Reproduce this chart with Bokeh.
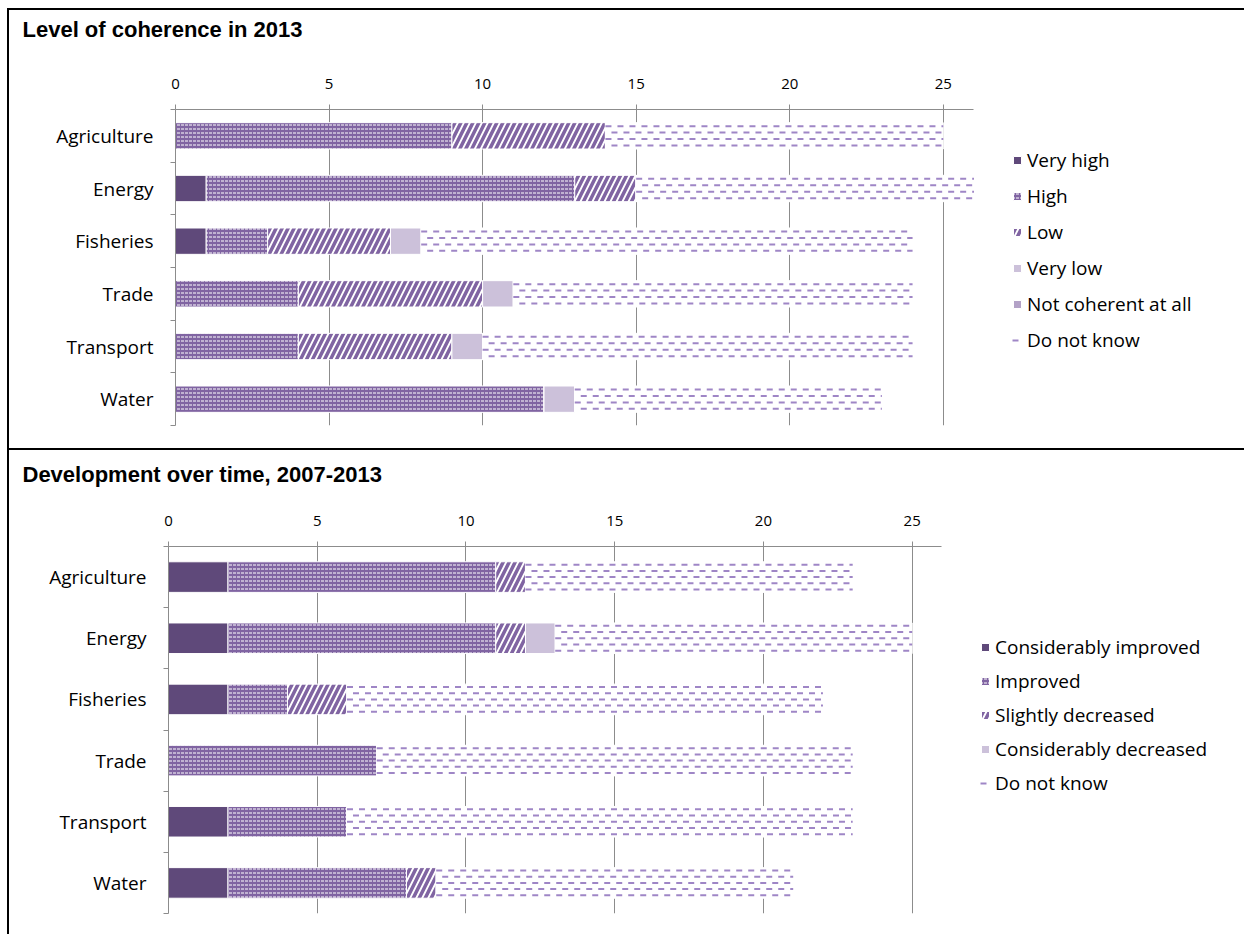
from bokeh.plotting import figure
from bokeh.models import Range1d, FixedTicker, Legend, LegendItem, ColumnDataSource
from bokeh.layouts import column
from bokeh.embed import file_html
from bokeh.resources import INLINE

categories = ["Agriculture", "Energy", "Fisheries", "Trade", "Transport", "Water"]
x_ticks = [0, 5, 10, 15, 20, 25]
x_axis_max = 26

# Level of coherence in 2013
coh_labels = ["Very high", "High", "Low", "Very low", "Not coherent at all", "Do not know"]
coh_very_high = [0, 1, 1, 0, 0, 0]
coh_high = [9, 12, 2, 4, 4, 12]
coh_low = [5, 2, 4, 6, 5, 0]
coh_very_low = [0, 0, 1, 1, 1, 1]
coh_not_coherent = [0, 0, 0, 0, 0, 0]
coh_dont_know = [11, 11, 16, 13, 14, 10]

# Development over time, 2007-2013
dev_labels = ["Considerably improved", "Improved", "Slightly decreased",
              "Considerably decreased", "Do not know"]
dev_cons_improved = [2, 2, 2, 0, 2, 2]
dev_improved = [9, 9, 2, 7, 4, 6]
dev_slightly_decreased = [1, 1, 2, 0, 0, 1]
dev_cons_decreased = [0, 1, 0, 0, 0, 0]
dev_dont_know = [11, 12, 16, 16, 17, 12]

DARK = "#5F497A"
MID = "#8064A2"
LIGHT = "#CCC1DA"
LILAC = "#B3A2C7"
DASH = "#9F86C6"
GRID = "#8C8C8C"
FONT = "Open Sans"

STY = {
    "dark": dict(fill_color=DARK),
    "dots": dict(fill_color=MID, hatch_pattern="horizontal_dash", hatch_color="white",
                 hatch_scale=4, hatch_weight=1),
    "diag": dict(fill_color="white", hatch_pattern="right_diagonal_line",
                 hatch_color=MID, hatch_scale=12, hatch_weight=3.5),
    "light": dict(fill_color=LIGHT),
    "lilac": dict(fill_color=LILAC),
    "dash": dict(fill_color="white"),
}


def make_chart(title, series, labels, styles, width, height, left_b, x_end,
               top_b, bottom_b, legend_loc, legend_spacing, title_offset,
               gap_standoff, dash_rows, fig_styles):
    n = len(categories)
    p = figure(width=width, height=height, x_range=Range1d(0, x_end),
               y_range=Range1d(n, 0), x_axis_location="above",
               output_backend="svg", toolbar_location=None,
               min_border_left=left_b, min_border_right=0,
               min_border_top=top_b, min_border_bottom=bottom_b,
               styles=fig_styles, frame_align=False)
    p.outline_line_color = None
    p.background_fill_color = "white"
    p.border_fill_color = "white"

    p.title.text = title
    p.title.text_font = "Liberation Sans"
    p.title.text_font_style = "bold"
    p.title.text_font_size = "22px"
    p.title.text_color = "black"
    p.title.align = "left"
    p.title.vertical_align = "top"
    p.title.offset = title_offset
    p.title.standoff = 10

    ys = [i + 0.5 for i in range(n)]
    left = [0] * n
    items = []
    for vals, lab, sk in zip(series, labels, styles):
        right = [a + b for a, b in zip(left, vals)]
        src = ColumnDataSource(dict(y=ys, left=left, right=right))
        r = p.hbar(y="y", left="left", right="right", height=0.5, source=src,
                   line_color="white", line_width=1, **STY[sk])
        rends = [r]
        if sk == "dash":
            for k, dy in enumerate(dash_rows):
                dsrc = ColumnDataSource(dict(x0=left, x1=right,
                                             yy=[y + dy for y in ys]))
                s = p.segment(x0="x0", x1="x1", y0="yy", y1="yy", source=dsrc,
                              line_color=DASH, line_width=2, line_dash="6 6",
                              line_dash_offset=(k % 2) * 6)
                if k == len(dash_rows) // 2:
                    rends.append(s)
        items.append(LegendItem(label=lab, renderers=rends))
        left = right

    xa = p.xaxis[0]
    xa.ticker = FixedTicker(ticks=x_ticks)
    xa.bounds = (0, x_axis_max)
    xa.axis_line_color = GRID
    xa.major_tick_line_color = GRID
    xa.major_tick_out = 5
    xa.major_tick_in = 0
    xa.minor_tick_line_color = None
    xa.major_label_text_font = FONT
    xa.major_label_text_font_size = "15px"
    xa.major_label_text_color = "black"
    xa.major_label_standoff = 16
    # blank spacer between tick labels and chart title
    xa.axis_label = " "
    xa.axis_label_text_font_size = "10px"
    xa.axis_label_standoff = gap_standoff

    ya = p.yaxis[0]
    ya.ticker = FixedTicker(ticks=ys, minor_ticks=list(range(n + 1)))
    ya.major_label_overrides = {y: c for y, c in zip(ys, categories)}
    ya.axis_line_color = GRID
    ya.major_tick_line_color = None
    ya.major_tick_out = 0
    ya.major_tick_in = 0
    ya.minor_tick_line_color = GRID
    ya.minor_tick_out = 5
    ya.minor_tick_in = 0
    ya.major_label_text_font = FONT
    ya.major_label_text_font_size = "19px"
    ya.major_label_text_color = "black"
    ya.major_label_standoff = 17

    p.xgrid.ticker = FixedTicker(ticks=x_ticks)
    p.xgrid.grid_line_color = GRID
    p.ygrid.grid_line_color = None

    leg = Legend(items=items, location=legend_loc, orientation="vertical")
    leg.border_line_color = None
    leg.background_fill_alpha = 0
    leg.padding = 0
    leg.margin = 0
    leg.glyph_width = 10
    leg.glyph_height = 10
    leg.label_height = 26
    leg.spacing = legend_spacing
    leg.label_standoff = 5
    leg.label_text_font = FONT
    leg.label_text_font_size = "19px"
    leg.label_text_color = "black"
    p.add_layout(leg, "center")
    return p


p1 = make_chart("Level of coherence in 2013",
                [coh_very_high, coh_high, coh_low, coh_very_low, coh_not_coherent, coh_dont_know],
                coh_labels, ["dark", "dots", "diag", "light", "lilac", "dash"],
                width=1237, height=442, left_b=166, x_end=1069 * 26 / 797,
                top_b=99, bottom_b=27,
                legend_loc=(837, 72), legend_spacing=10, title_offset=-153,
                gap_standoff=13,
                dash_rows=[-0.183, -0.061, 0.061, 0.183],
                fig_styles={"border-left": "2px solid black", "border-top": "2px solid black",
                            "border-bottom": "2px solid black"})

p2 = make_chart("Development over time, 2007-2013",
                [dev_cons_improved, dev_improved, dev_slightly_decreased, dev_cons_decreased, dev_dont_know],
                dev_labels, ["dark", "dots", "diag", "light", "dash"],
                width=1237, height=484, left_b=159, x_end=1076 * 26 / 772,
                top_b=96, bottom_b=21,
                legend_loc=(812, 117), legend_spacing=8, title_offset=-146,
                gap_standoff=5,
                dash_rows=[-0.203, -0.101, 0.0, 0.101, 0.203],
                fig_styles={"border-left": "2px solid black"})

root = column(p1, p2, styles={"margin-left": "7px", "margin-top": "8px"})

open("out.html", "w").write(file_html(root, INLINE))
